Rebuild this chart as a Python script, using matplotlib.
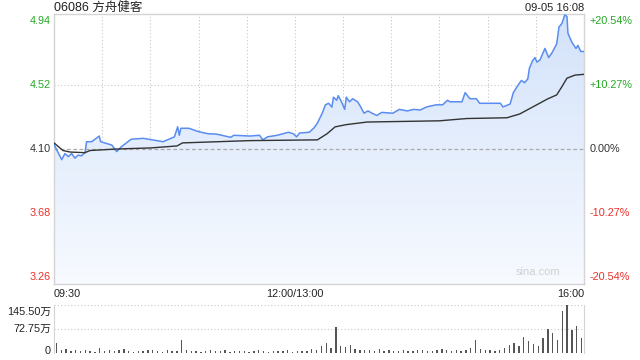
import numpy as np
import matplotlib
matplotlib.use("Agg")
import matplotlib.pyplot as plt
from matplotlib.colors import LinearSegmentedColormap
from matplotlib.transforms import blended_transform_factory

plt.rcParams['font.family'] = ['Liberation Sans', 'Noto Sans CJK SC', 'DejaVu Sans']

# trading minutes since 09:30 (lunch break removed), last price
price_t = [0, 4.8, 6.8, 8.9, 11, 13, 15, 17, 19.3, 20.3, 23.5, 28.2, 29, 36, 39, 42, 48,
           55.6, 64, 68, 75, 77, 78, 79, 84, 90, 96, 101, 110, 112, 122, 128, 130, 133,
           139, 146, 149, 151, 153, 159, 162, 164, 167, 169, 171, 173, 174, 176, 177,
           179, 181, 182, 184, 186, 189, 191, 193, 195.5, 198, 201, 204, 211, 215, 220,
           224, 228, 232, 238, 242, 245, 246.5, 254, 256, 259, 263, 265, 270, 271.5,
           278, 279.5, 284, 286, 289, 291, 293, 295, 296, 298, 299.5, 300.7, 302.6,
           305.7, 308, 310, 313, 314.4, 316.3, 318, 319.4, 320, 321, 322.5, 325, 326.2,
           328, 330]
price = [4.13, 4.03, 4.07, 4.05, 4.07, 4.04, 4.06, 4.055, 4.076, 4.148, 4.148, 4.185,
         4.148, 4.126, 4.083, 4.115, 4.164, 4.17, 4.155, 4.148, 4.18, 4.246, 4.19, 4.236,
         4.236, 4.214, 4.20, 4.198, 4.177, 4.19, 4.185, 4.19, 4.16, 4.18, 4.19, 4.21,
         4.20, 4.18, 4.205, 4.21, 4.24, 4.27, 4.335, 4.39, 4.40, 4.375, 4.44, 4.42, 4.45,
         4.41, 4.36, 4.44, 4.41, 4.43, 4.41, 4.376, 4.335, 4.35, 4.335, 4.32, 4.34,
         4.335, 4.36, 4.35, 4.36, 4.356, 4.376, 4.39, 4.39, 4.42, 4.41, 4.41, 4.47,
         4.43, 4.43, 4.40, 4.40, 4.40, 4.40, 4.376, 4.395, 4.47, 4.52, 4.55, 4.535,
         4.56, 4.63, 4.68, 4.70, 4.67, 4.685, 4.76, 4.70, 4.73, 4.79, 4.90, 4.925, 4.98,
         4.97, 4.86, 4.835, 4.80, 4.76, 4.78, 4.74, 4.74]

avg_t = [0, 5.6, 10, 19.3, 22.4, 39, 60, 76.6, 80, 122, 164, 170, 175, 182, 195, 240,
         257, 282, 290, 307.6, 313, 316.3, 319.4, 324.4, 330]
avg = [4.14, 4.09, 4.08, 4.076, 4.09, 4.10, 4.107, 4.12, 4.14, 4.155, 4.16, 4.20,
       4.245, 4.26, 4.277, 4.285, 4.30, 4.305, 4.33, 4.43, 4.455, 4.51, 4.565, 4.585, 4.59]

# volume per 3 minutes, in 万 shares
volume = [30, 8, 12, 6, 9, 5, 10, 7, 4, 14,
          6, 8, 5, 9, 12, 6, 4, 7, 5, 8,
          10, 6, 4, 9, 5, 7, 38, 8, 5, 6,
          4, 7, 9, 5, 6, 8, 4, 5, 7, 6,
          3, 5, 8, 6, 4, 7, 5, 6, 9, 4,
          5, 7, 6, 12, 8, 22, 30, 15, 78, 20,
          18, 25, 12, 10, 8, 9, 6, 12, 7, 8,
          5, 6, 9, 7, 5, 8, 10, 6, 7, 9,
          12, 8, 6, 10, 7, 9, 14, 40, 12, 8,
          10, 7, 9, 15, 25, 30, 22, 50, 35, 28,
          20, 45, 73, 60, 40, 128, 145, 70, 81, 45, 30]

prev_close = 4.10
price_ticks = [4.94, 4.52, 4.10, 3.68, 3.26]
pct_labels = ['+20.54%', '+10.27%', '0.00%', '-10.27%', '-20.54%']
tick_colors = ['#22a822', '#22a822', '#333333', '#e8312a', '#e8312a']
vol_ticks = [145.5, 72.75, 0]
vol_labels = ['145.50万', '72.75万', '0']

GRID = '#c8c8c8'
FRAME = '#d4d4d4'

fig = plt.figure(figsize=(6.4, 3.6), dpi=100)
ax = fig.add_axes([54 / 640, 1 - 284 / 360, 530 / 640, 270 / 360])
vax = fig.add_axes([54 / 640, 1 - 353 / 360, 530 / 640, 48 / 360])

ylo, yhi = 3.214, 4.986
ax.set_xlim(0, 330)
ax.set_ylim(ylo, yhi)

# gradient area under the price line
poly = ax.fill_between(price_t, price, ylo, color='none', lw=0)
cmap = LinearSegmentedColormap.from_list('fill', ['#f7faff', '#d3e2fa'])
grad = np.linspace(1, 0, 256).reshape(-1, 1)
im = ax.imshow(grad, extent=[0, 330, ylo, yhi], aspect='auto', cmap=cmap, zorder=1)
im.set_clip_path(poly.get_paths()[0], ax.transData)

for m in range(30, 330, 30):
    ax.axvline(m, color=GRID, lw=0.8, ls=(0, (1, 2)), zorder=0.5)
for v in (4.52, 3.68):
    ax.axhline(v, color=GRID, lw=0.8, ls=(0, (1, 2)), zorder=0.5)
ax.axhline(prev_close, color='#aaaaaa', lw=0.9, ls=(0, (3, 2)), zorder=2)

ax.plot(price_t, price, color='#5a8df0', lw=1.1, zorder=3)
ax.plot(avg_t, avg, color='#333333', lw=1.0, zorder=4)

ax.set_xticks([])
ax.set_yticks([])
for s in ax.spines.values():
    s.set_color(FRAME)
    s.set_linewidth(1.0)

ax.set_title('06086 方舟健客', loc='left', fontsize=9, color='#222222', pad=2,
             x=0.0)
ax.text(1.0, 1.005, '09-05 16:08', transform=ax.transAxes, ha='right', va='bottom',
        fontsize=8, color='#222222')

lt = blended_transform_factory(fig.transFigure, ax.transData)
for v, p, c in zip(price_ticks, pct_labels, tick_colors):
    ax.text(51 / 640, v, f'{v:.2f}', transform=lt, ha='right', va='center',
            fontsize=7.8, color=c)
    ax.text(590 / 640, v, p, transform=lt, ha='left', va='center',
            fontsize=7.8, color=c)

ax.text(0.0, -0.018, '09:30', transform=ax.transAxes, ha='left', va='top',
        fontsize=7.8, color='#222222')
ax.text(150, ylo - 0.03, '12:00/13:00', ha='center', va='top', fontsize=7.8,
        color='#222222')
ax.text(1.0, -0.018, '16:00', transform=ax.transAxes, ha='right', va='top',
        fontsize=7.8, color='#222222')
ax.text(0.955, 0.025, 'sina.com', transform=ax.transAxes, ha='right', va='bottom',
        fontsize=8, color='#d0d0d0')

# volume panel
vt = np.arange(len(volume)) * 3 + 1.5
vax.bar(vt, volume, width=0.9, color='#555555', lw=0)
vax.set_xlim(0, 330)
vax.set_ylim(0, 145.5)
vax.set_xticks([])
vax.set_yticks([])
for v in (145.5, 72.75):
    vax.axhline(v, color=GRID, lw=0.8, ls=(0, (1, 2)), zorder=0)
vax.spines['top'].set_visible(False)
vax.spines['bottom'].set_visible(False)
vax.spines['left'].set_color(FRAME)
vax.spines['right'].set_color(FRAME)
vt2 = blended_transform_factory(fig.transFigure, vax.transData)
label_shift = {145.5: -22, 72.75: 0, 0: 6}
for v, lab in zip(vol_ticks, vol_labels):
    vax.text(51 / 640, v + label_shift[v], lab, transform=vt2, ha='right',
             va='center', fontsize=7.8, color='#222222')

fig.savefig('out.png', dpi=100)
